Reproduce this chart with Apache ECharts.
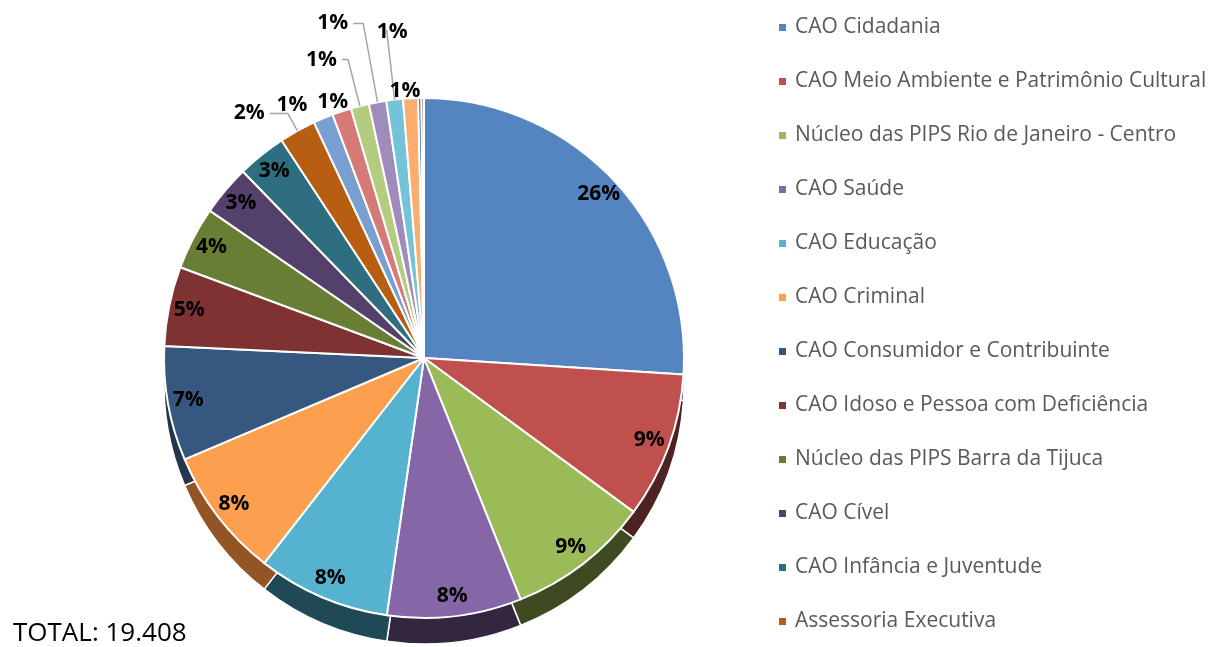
<!DOCTYPE html>
<html>
<head>
<meta charset="utf-8">
<script src="https://cdn.jsdelivr.net/npm/echarts/dist/echarts.min.js"></script>
<style>
  html, body { margin: 0; padding: 0; background: #fff; }
  #main { width: 1210px; height: 647px; }
</style>
</head>
<body>
<div id="main"></div>
<script>
const names = [
  'CAO Cidadania',
  'CAO Meio Ambiente e Patrimônio Cultural',
  'Núcleo das PIPS Rio de Janeiro - Centro',
  'CAO Saúde',
  'CAO Educação',
  'CAO Criminal',
  'CAO Consumidor e Contribuinte',
  'CAO Idoso e Pessoa com Deficiência',
  'Núcleo das PIPS Barra da Tijuca',
  'CAO Cível',
  'CAO Infância e Juventude',
  'Assessoria Executiva',
  'Outros 1', 'Outros 2', 'Outros 3', 'Outros 4', 'Outros 5', 'Outros 6', 'Outros 7', 'Outros 8'
];
const values = [5048, 1760, 1720, 1620, 1600, 1570, 1380, 960, 760, 610, 590, 440,
  240, 230, 220, 210, 200, 180, 40, 30];
const total = 19408;
const topColors = ['#5585c1', '#c0504d', '#9bbb59', '#8567a8', '#55b3cf', '#fca050',
  '#355780', '#7e3232', '#687e35', '#54416b', '#2e6e80', '#b85e12',
  '#789fd0', '#d57a78', '#b3cc80', '#a08bbd', '#75c3d8', '#fbad6e', '#3a5f8f', '#8f3a38'];
const sideColors = ['#3a5f8f', '#4e2220', '#3e4a22', '#322640', '#1f4a55', '#935426',
  '#223650', '#4a1c1c', '#3b4a1e', '#2f2440', '#1b4450', '#6e380a',
  '#4a6a92', '#8a4a48', '#76884e', '#60557a', '#44808f', '#a86f40', '#223650', '#4e2220'];
const legendNames = names.slice(0, 12);
// leader line lengths for the small outside labels [radial, horizontal]
const smallLines = { 11: [20, 18], 12: [12, 20], 13: [8, 0], 14: [48, 6], 15: [80, 10], 16: [70, 0], 17: [4, 0] };
// extra nudges for the crowded 1% labels
const nudges = { 12: [14, -2], 13: [14, -2], 16: [26, 2], 17: [15, -3] };

const R = 260;
const cx = 424, cy = 358, depth = 26;

const topData = names.map((n, i) => ({ name: n, value: values[i], itemStyle: { color: topColors[i] } }));
const sideData = names.map((n, i) => ({ name: n, value: values[i], itemStyle: { color: sideColors[i] } }));
const labelData = names.map((n, i) => {
  const item = { name: n, value: values[i] };
  if (values[i] / total < 0.005) {
    item.label = { show: false };
    item.labelLine = { show: false };
  } else if (smallLines[i]) {
    item.label = { position: 'outside' };
    item.labelLine = {
      show: [12, 13, 17].indexOf(i) < 0,
      length: smallLines[i][0],
      length2: smallLines[i][1]
    };
  }
  return item;
});

const chart = echarts.init(document.getElementById('main'));
chart.setOption({
  animation: false,
  title: {
    text: 'TOTAL: 19.408',
    left: 8,
    top: 616,
    textStyle: { fontFamily: 'Open Sans', fontSize: 26, fontWeight: 'normal', color: '#000' }
  },
  legend: {
    data: legendNames,
    orient: 'vertical',
    left: 772,
    top: 12,
    itemWidth: 9,
    itemHeight: 9,
    itemGap: 33,
    icon: 'rect',
    textStyle: { fontFamily: 'Open Sans', fontSize: 21, color: '#595959', padding: [0, 0, 0, 3] }
  },
  series: [
    {
      type: 'pie',
      center: [cx, cy],
      radius: R,
      data: topData,
      label: { show: false },
      labelLine: { show: false },
      itemStyle: { borderColor: '#fff', borderWidth: 2 },
      z: 2
    },
    {
      type: 'pie',
      silent: true,
      center: [cx, cy + depth],
      radius: R,
      data: sideData,
      label: { show: false },
      labelLine: { show: false },
      itemStyle: { borderColor: '#fff', borderWidth: 1.5 },
      z: 1
    },
    {
      type: 'pie',
      silent: true,
      center: [cx, cy],
      radius: [R * 0.82, R],
      data: labelData,
      itemStyle: { color: 'rgba(0,0,0,0)' },
      avoidLabelOverlap: false,
      label: {
        show: true,
        position: 'inside',
        formatter: p => Math.round(p.percent) + '%',
        fontFamily: 'Open Sans',
        fontWeight: 'bold',
        fontSize: 21,
        color: '#000'
      },
      labelLine: { lineStyle: { color: '#a6a6a6', width: 1.5 } },
      labelLayout: p => {
        const n = nudges[p.dataIndex];
        return n ? { dx: n[0], dy: n[1] } : {};
      },
      z: 3
    }
  ]
});
</script>
</body>
</html>
